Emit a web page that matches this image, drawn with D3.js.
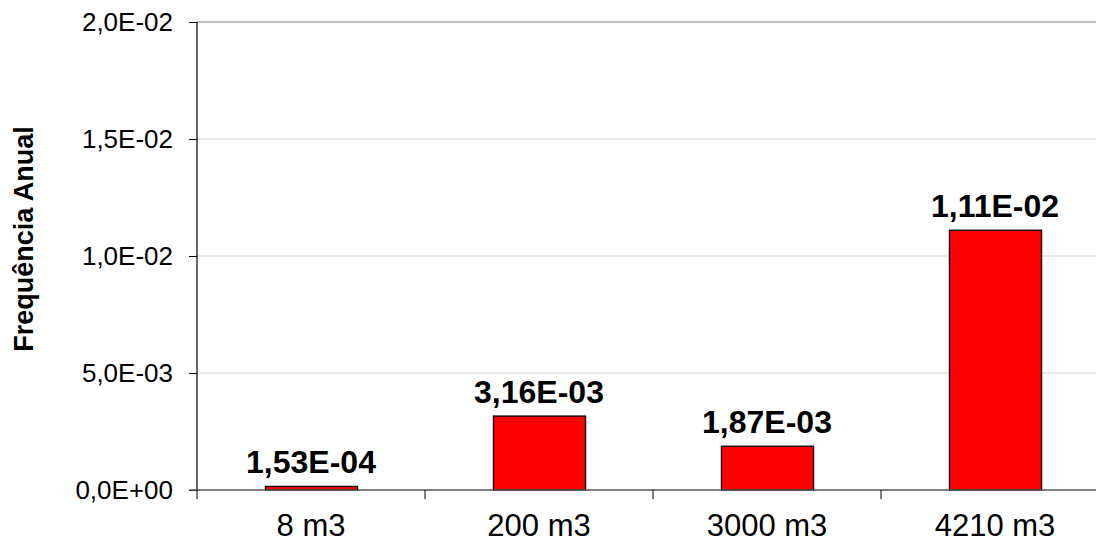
<!DOCTYPE html>
<html>
<head>
<meta charset="utf-8">
<script src="https://cdn.jsdelivr.net/npm/d3@7"></script>
<style>
  html, body { margin: 0; padding: 0; background: #fff; }
  svg { display: block; font-family: "Liberation Sans", Arial, sans-serif; }
</style>
</head>
<body>
<svg id="chart" width="1096" height="542"></svg>
<script>
// Annual frequency per released volume
const categories = ["8 m3", "200 m3", "3000 m3", "4210 m3"];
const values = [1.53e-4, 3.16e-3, 1.87e-3, 1.11e-2];
const valueLabels = ["1,53E-04", "3,16E-03", "1,87E-03", "1,11E-02"];
const yTicks = [0, 0.005, 0.01, 0.015, 0.02];
const yTickLabels = ["0,0E+00", "5,0E-03", "1,0E-02", "1,5E-02", "2,0E-02"];
const yTitle = "Frequência Anual";

const svg = d3.select("#chart");
const plotLeft = 197, plotRight = 1109, plotTop = 22, plotBottom = 490;

const x = d3.scaleBand()
  .domain(categories)
  .range([plotLeft, plotRight])
  .paddingInner(0.596)
  .paddingOuter(0.298);

const y = d3.scaleLinear().domain([0, 0.02]).range([plotBottom, plotTop]);

// horizontal gridlines
svg.append("g")
  .selectAll("line")
  .data(yTicks.slice(1))
  .join("line")
  .attr("x1", plotLeft).attr("x2", plotRight)
  .attr("y1", d => y(d)).attr("y2", d => y(d))
  .attr("stroke", d => d === 0.02 ? "#808080" : "#d0d0d0")
  .attr("stroke-width", 1);

// bars
svg.append("g")
  .selectAll("rect")
  .data(values)
  .join("rect")
  .attr("x", (d, i) => x(categories[i]) + 0.5)
  .attr("y", d => y(d))
  .attr("width", x.bandwidth())
  .attr("height", d => plotBottom - y(d))
  .attr("fill", "#ff0000")
  .attr("stroke", "#000")
  .attr("stroke-width", 1.3);

// y axis
const yAxis = d3.axisLeft(y)
  .tickValues(yTicks)
  .tickFormat((d, i) => yTickLabels[i])
  .tickSize(8)
  .tickPadding(16);
const gy = svg.append("g").attr("transform", `translate(${plotLeft},0)`).call(yAxis);
gy.select(".domain").attr("stroke", "#000").attr("stroke-width", 1.2).attr("d", `M0,${plotTop}V${plotBottom}`);
gy.selectAll(".tick line").attr("stroke", "#000");
gy.selectAll(".tick text").attr("font-size", 26).attr("fill", "#000")
  .attr("font-family", "Liberation Sans, Arial, sans-serif");

// x axis
const boundaries = d3.range(categories.length + 1).map(i => plotLeft + i * x.step());
const gx = svg.append("g");
gx.append("line")
  .attr("x1", plotLeft - 8).attr("x2", plotRight)
  .attr("y1", plotBottom).attr("y2", plotBottom)
  .attr("stroke", "#555").attr("stroke-width", 1.5);
gx.selectAll("line.tk")
  .data(boundaries)
  .join("line")
  .attr("class", "tk")
  .attr("x1", d => d).attr("x2", d => d)
  .attr("y1", plotBottom).attr("y2", plotBottom + 9)
  .attr("stroke", "#000").attr("stroke-width", 1);
gx.selectAll("text")
  .data(categories)
  .join("text")
  .attr("x", d => x(d) + x.bandwidth() / 2)
  .attr("y", 536)
  .attr("text-anchor", "middle")
  .attr("font-size", 31)
  .attr("fill", "#000")
  .text(d => d);

// value labels
svg.append("g")
  .selectAll("text")
  .data(values)
  .join("text")
  .attr("x", (d, i) => x(categories[i]) + x.bandwidth() / 2)
  .attr("y", d => y(d) - 13)
  .attr("text-anchor", "middle")
  .attr("font-size", 32)
  .attr("font-weight", "bold")
  .attr("fill", "#000")
  .text((d, i) => valueLabels[i]);

// y axis title
svg.append("text")
  .attr("transform", "translate(33,239) rotate(-90)")
  .attr("text-anchor", "middle")
  .attr("font-size", 27)
  .attr("font-weight", "bold")
  .attr("fill", "#000")
  .text(yTitle);
</script>
</body>
</html>
